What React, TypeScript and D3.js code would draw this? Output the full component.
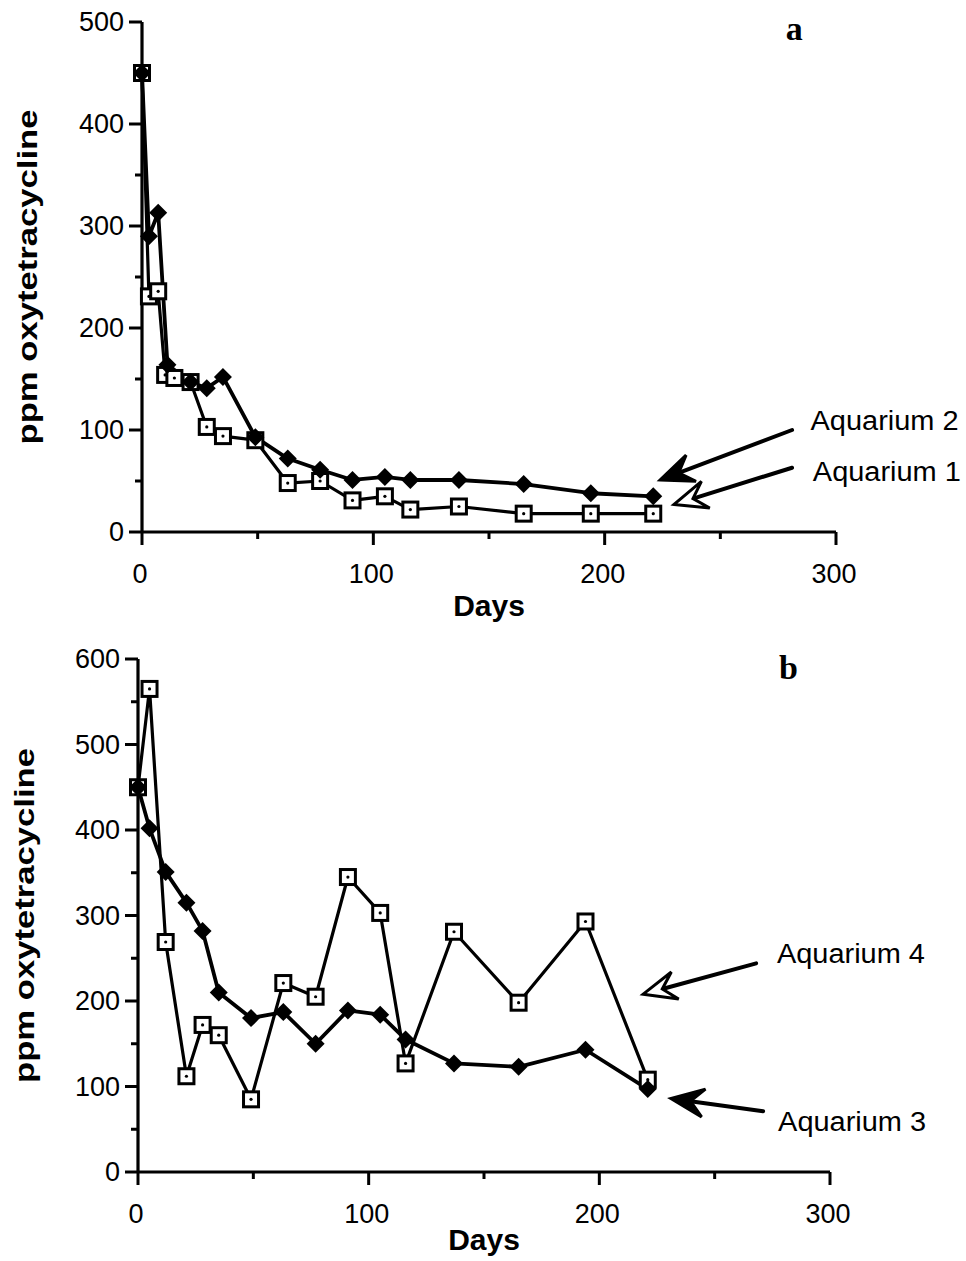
import React from "react";
import * as d3 from "d3";

// panel a
const daysAq2 = [0, 3, 7, 11, 21, 28, 35, 49, 63, 77, 91, 105, 116, 137, 165, 194, 221];
const aquarium2 = [450, 290, 313, 164, 147, 141, 152, 93, 72, 61, 51, 54, 51, 51, 47, 38, 35];
const daysAq1 = [0, 3, 7, 10, 14, 21, 28, 35, 49, 63, 77, 91, 105, 116, 137, 165, 194, 221];
const aquarium1 = [450, 231, 236, 154, 151, 147, 103, 94, 90, 48, 50, 31, 35, 22, 25, 18, 18, 18];

// panel b
const daysB = [0, 5, 12, 21, 28, 35, 49, 63, 77, 91, 105, 116, 137, 165, 194, 221];
const aquarium3 = [450, 402, 351, 315, 282, 210, 180, 187, 150, 189, 184, 155, 127, 123, 143, 97];
const aquarium4 = [450, 565, 269, 112, 172, 160, 85, 221, 205, 345, 303, 127, 281, 198, 293, 108];

const xTicks = [0, 100, 200, 300];

const SANS = "'Liberation Sans', Arial, Helvetica, sans-serif";

type Pt = [number, number];
type Note = { label: string; tip: Pt; tail: Pt; text: Pt; filled: boolean };

function zip(xs: number[], ys: number[]): Pt[] {
  return xs.map((d, i) => [d, ys[i]]);
}

function arrow(tip: Pt, tail: Pt, filled: boolean) {
  const dx = tail[0] - tip[0], dy = tail[1] - tip[1];
  const len = Math.sqrt(dx * dx + dy * dy);
  const ux = dx / len, uy = dy / len;
  const nx = -uy, ny = ux;
  const L = 33, W = 14;
  const b1: Pt = [tip[0] + ux * L + nx * W, tip[1] + uy * L + ny * W];
  const b2: Pt = [tip[0] + ux * L - nx * W, tip[1] + uy * L - ny * W];
  const notch: Pt = [tip[0] + ux * L * 0.6, tip[1] + uy * L * 0.6];
  const head = `M${tip[0]},${tip[1]}L${b1[0]},${b1[1]}L${notch[0]},${notch[1]}L${b2[0]},${b2[1]}Z`;
  return (
    <g>
      <line x1={notch[0]} y1={notch[1]} x2={tail[0]} y2={tail[1]} stroke="#000" strokeWidth={4} strokeLinecap="round" />
      <path d={head} fill={filled ? "#000" : "#fff"} stroke="#000" strokeWidth={3} strokeLinejoin="miter" />
    </g>
  );
}

function Panel(props: {
  left: number; right: number; top: number; bottom: number; yMax: number;
  filled: Pt[]; open: Pt[]; notes: Note[]; tag: string; tagPos: Pt; titleX: number; daysY: number;
}) {
  const { left, right, top, bottom, yMax, filled, open, notes, tag, tagPos, titleX, daysY } = props;
  const x = d3.scaleLinear().domain([0, 300]).range([left, right]);
  const y = d3.scaleLinear().domain([0, yMax]).range([bottom, top]);
  const line = d3.line<Pt>().x(d => x(d[0])).y(d => y(d[1]));
  const yTicks = d3.range(0, yMax + 1, 50);
  const xMinor = d3.range(0, 301, 50);
  const s = 7.5;
  const dm = 9;

  return (
    <g>
      {/* axes */}
      <line x1={left} y1={top} x2={left} y2={bottom} stroke="#000" strokeWidth={3.2} />
      <line x1={left} y1={bottom} x2={right} y2={bottom} stroke="#000" strokeWidth={3.2} />
      {yTicks.map(t => (
        <line key={"yt" + t} x1={left - (t % 100 === 0 ? 13 : 7)} x2={left} y1={y(t)} y2={y(t)} stroke="#000" strokeWidth={3} />
      ))}
      {yTicks.filter(t => t % 100 === 0).map(t => (
        <text key={"yl" + t} x={left - 18} y={y(t) + 9} textAnchor="end" fontFamily={SANS} fontSize={27}>{t}</text>
      ))}
      {xMinor.map(t => (
        <line key={"xt" + t} x1={x(t)} x2={x(t)} y1={bottom} y2={bottom + (t % 100 === 0 ? 13 : 7)} stroke="#000" strokeWidth={3} />
      ))}
      {xTicks.map(t => (
        <text key={"xl" + t} x={x(t) - 2} y={bottom + 51} textAnchor="middle" fontFamily={SANS} fontSize={27}>{t}</text>
      ))}
      <text x={(x(0) + x(300)) / 2} y={daysY} textAnchor="middle" fontFamily={SANS} fontSize={30} fontWeight="bold">Days</text>
      <text transform={`translate(${titleX},${(top + bottom) / 2}) rotate(-90)`} textAnchor="middle" fontFamily={SANS}
        fontSize={27} fontWeight="bold" textLength={335} lengthAdjust="spacingAndGlyphs">ppm oxytetracycline</text>
      <text x={x(tagPos[0])} y={y(tagPos[1])} textAnchor="middle" fontFamily="'Liberation Serif', 'Times New Roman', serif"
        fontSize={34} fontWeight="bold">{tag}</text>

      {/* series */}
      <path d={line(open) || ""} fill="none" stroke="#000" strokeWidth={3.2} strokeLinejoin="round" />
      <path d={line(filled) || ""} fill="none" stroke="#000" strokeWidth={3.8} strokeLinejoin="round" />
      {open.map((d, i) => (
        <g key={"o" + i}>
          <rect x={x(d[0]) - s} y={y(d[1]) - s} width={2 * s} height={2 * s} fill="#fff" stroke="#000" strokeWidth={3} />
          <circle cx={x(d[0])} cy={y(d[1])} r={1.6} fill="#000" />
        </g>
      ))}
      {filled.map((d, i) => (
        <path key={"f" + i}
          d={`M${x(d[0])},${y(d[1]) - dm}L${x(d[0]) + dm},${y(d[1])}L${x(d[0])},${y(d[1]) + dm}L${x(d[0]) - dm},${y(d[1])}Z`}
          fill="#000" />
      ))}

      {/* annotations */}
      {notes.map(n => (
        <g key={n.label}>
          {arrow([x(n.tip[0]), y(n.tip[1])], [x(n.tail[0]), y(n.tail[1])], n.filled)}
          <text x={x(n.text[0])} y={y(n.text[1])} fontFamily={SANS} fontSize={27} textLength={148}
            lengthAdjust="spacingAndGlyphs">{n.label}</text>
        </g>
      ))}
    </g>
  );
}

export default function App() {
  const notesA: Note[] = [
    { label: "Aquarium 2", tip: [224, 51], tail: [281, 100], text: [289, 100], filled: true },
    { label: "Aquarium 1", tip: [230, 27], tail: [281, 63], text: [290, 50], filled: false },
  ];
  const notesB: Note[] = [
    { label: "Aquarium 4", tip: [219, 208], tail: [268, 244], text: [277, 244], filled: false },
    { label: "Aquarium 3", tip: [231, 86], tail: [271, 71], text: [277.5, 48], filled: true },
  ];
  return (
    <svg width={966} height={1261} style={{ position: "absolute", left: 0, top: 0, background: "#fff" }}>
      <rect width={966} height={1261} fill="#fff" />
      <Panel left={142} right={836} top={22} bottom={532} yMax={500}
        filled={zip(daysAq2, aquarium2)} open={zip(daysAq1, aquarium1)} notes={notesA}
        tag="a" tagPos={[282, 482]} titleX={37} daysY={616} />
      <Panel left={138} right={830} top={659} bottom={1172} yMax={600}
        filled={zip(daysB, aquarium3)} open={zip(daysB, aquarium4)} notes={notesB}
        tag="b" tagPos={[282, 577]} titleX={34} daysY={1250} />
    </svg>
  );
}
